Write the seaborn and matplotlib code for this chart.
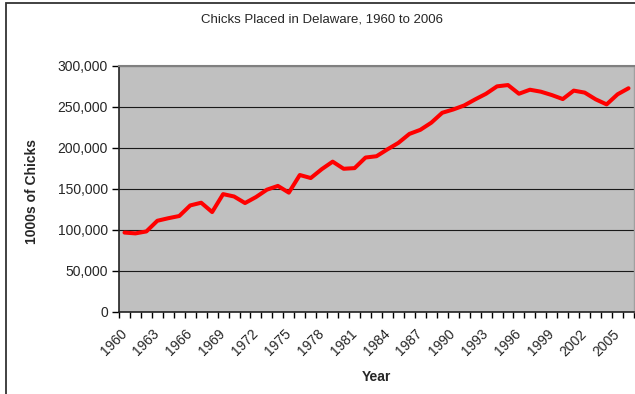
import matplotlib
matplotlib.use("Agg")
import matplotlib.pyplot as plt
import matplotlib.ticker as mticker
from matplotlib.patches import Rectangle
from matplotlib.transforms import ScaledTranslation
import seaborn as sns
import pandas as pd

years = list(range(1960, 2007))
chicks = [
    96500, 95500, 97900, 110900, 114000, 116700, 129600, 132900, 121500, 143400,
    140500, 132500, 139800, 148800, 153400, 145200, 166700, 163000, 173800, 183000,
    174300, 175100, 188000, 189600, 198000, 205900, 216800, 221800, 230500, 242600,
    246600, 251500, 258900, 265800, 274800, 276400, 265800, 270700, 268300, 264200,
    259300, 269600, 267200, 259000, 252800, 265100, 272500,
]
y_ticks = [0, 50000, 100000, 150000, 200000, 250000, 300000]
label_years = list(range(1960, 2007, 3))

df = pd.DataFrame({"Year": years, "Chicks": chicks})

sns.set_style("white")
plt.rcParams["font.family"] = ["Liberation Sans", "DejaVu Sans"]

W, H = 635, 394
fig = plt.figure(figsize=(W / 100, H / 100), dpi=100)
ax = fig.add_axes([119 / W, (H - 311.7) / H, 515 / W, 246 / H])
ax.set_facecolor("#C0C0C0")

sns.lineplot(data=df, x="Year", y="Chicks", ax=ax, color="#FF0000",
             linewidth=2.9, solid_joinstyle="round", solid_capstyle="round")

ax.set_xlim(1959.5, 2006.5)
ax.set_ylim(0, 300000)

ax.set_yticks(y_ticks)
ax.yaxis.set_major_formatter(mticker.FuncFormatter(lambda v, p: f"{int(v):,}"))
ax.grid(axis="y", color="#1a1a1a", linewidth=0.8)
ax.set_axisbelow(True)

ax.set_xticks(label_years)
ax.set_xticklabels([str(y) for y in label_years], rotation=45, ha="right",
                   va="center", rotation_mode="anchor")
shift = ScaledTranslation(-7 / 100, -1 / 100, fig.dpi_scale_trans)
for lbl in ax.get_xticklabels():
    lbl.set_transform(lbl.get_transform() + shift)
ax.set_xticks([y - 0.5 for y in range(1960, 2008)], minor=True)
ax.tick_params(axis="x", which="major", length=0, pad=14.5, labelsize=10)
ax.tick_params(axis="x", which="minor", length=4, width=1, direction="out",
               color="#000000", bottom=True)
ax.tick_params(axis="y", which="major", length=5, width=1, direction="out",
               color="#000000", left=True, pad=3, labelsize=10)

for side in ("left", "bottom"):
    ax.spines[side].set_color("#222222")
    ax.spines[side].set_linewidth(1.2)
ax.spines["top"].set_color("#808080")
ax.spines["top"].set_linewidth(1.5)
ax.spines["right"].set_color("#A0A0A0")
ax.spines["right"].set_linewidth(1.0)

ax.set_xlabel("Year", fontsize=10, fontweight="bold", labelpad=8)
ax.set_ylabel("1000s of Chicks", fontsize=10, fontweight="bold")
ax.yaxis.set_label_coords((38.5 - 119) / 515, (311.7 - 191.7) / 246)
fig.text(322 / W, 1 - 20 / H, "Chicks Placed in Delaware, 1960 to 2006",
         ha="center", va="center", fontsize=9.5)

# chart-area frame (open on the right and bottom)
fig.patches.append(Rectangle((6 / W, -0.1), 1.2, 1 - 3.5 / H + 0.1,
                             transform=fig.transFigure, fill=False,
                             edgecolor="#333333", linewidth=1.3))

fig.savefig("out.png", dpi=100)
